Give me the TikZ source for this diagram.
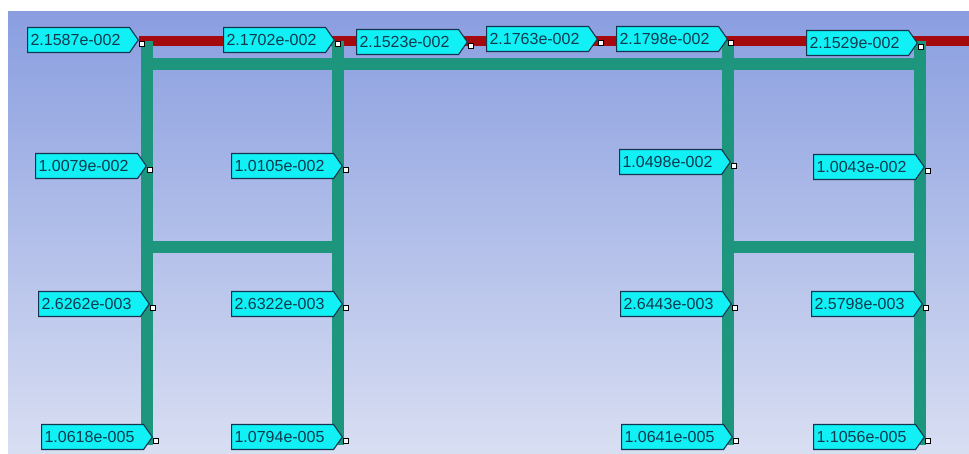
\documentclass[tikz,border=0pt]{standalone}
\usepackage{fontspec}
\setmainfont{Liberation Sans}
\usetikzlibrary{shapes.symbols}
\definecolor{bgtop}{HTML}{8A9EE0}
\definecolor{bgbot}{HTML}{D8DEF2}
\definecolor{pipegreen}{HTML}{1E967D}
\definecolor{pipered}{HTML}{A50A0F}
\definecolor{lblfill}{HTML}{10F0F5}
\definecolor{lbldraw}{HTML}{16344E}
\definecolor{lbltext}{HTML}{0E3A50}
\tikzset{
  lbl/.style={signal, signal to=east, signal pointer angle=110, fill=lblfill, draw=lbldraw, line width=1.1pt,
    text=lbltext, font=\fontsize{16}{16}\selectfont, minimum height=25pt,
    text width=96pt, inner xsep=3pt, align=left, anchor=east},
  marker/.style={rectangle, fill=white, draw=black, line width=1pt, minimum size=5pt, inner sep=0pt},
  greenpipe/.style={draw=pipegreen, line width=12pt},
  redpipe/.style={draw=pipered, line width=10pt},
}
\begin{document}
\begin{tikzpicture}[x=1pt,y=-1pt]
\useasboundingbox (0,0) rectangle (969,453);
\fill[white] (0,0) rectangle (969,453);
\shade[top color=bgtop, bottom color=bgbot] (8,11) rectangle (969,453);
% junction coordinates
\coordinate (rs) at (139,41);
\coordinate (re) at (969,41);
\coordinate (g1t) at (147,41);
\coordinate (g2t) at (338,41);
\coordinate (g3t) at (728,41);
\coordinate (g4t) at (920,41);
\coordinate (g1b) at (147,445);
\coordinate (g2b) at (338,445);
\coordinate (g3b) at (728,445);
\coordinate (g4b) at (920,445);
\coordinate (h1) at (141,64);
\coordinate (h2) at (926,64);
\coordinate (m1) at (147,247);
\coordinate (m2) at (338,247);
\coordinate (m3) at (728,247);
\coordinate (m4) at (920,247);
% pipes
\draw[redpipe] (rs) -- (re);
\draw[greenpipe] (h1) -- (h2);
\draw[greenpipe] (g1t) -- (g1b);
\draw[greenpipe] (g2t) -- (g2b);
\draw[greenpipe] (g3t) -- (g3b);
\draw[greenpipe] (g4t) -- (g4b);
\draw[greenpipe] (m1) -- (m2);
\draw[greenpipe] (m3) -- (m4);
% labels top row
\node[lbl] (t1) at (139,40) {2.1587e-002};
\node[lbl] (t2) at (335,40) {2.1702e-002};
\node[lbl] (t3) at (468,42) {2.1523e-002};
\node[lbl] (t4) at (598,39) {2.1763e-002};
\node[lbl] (t5) at (728,39) {2.1798e-002};
\node[lbl] (t6) at (918,43) {2.1529e-002};
% row 1
\node[lbl] (a1) at (147,166) {1.0079e-002};
\node[lbl] (a2) at (343,166) {1.0105e-002};
\node[lbl] (a3) at (731,162) {1.0498e-002};
\node[lbl] (a4) at (925,167) {1.0043e-002};
% row 2
\node[lbl] (b1) at (150,304) {2.6262e-003};
\node[lbl] (b2) at (343,304) {2.6322e-003};
\node[lbl] (b3) at (732,304) {2.6443e-003};
\node[lbl] (b4) at (923,304) {2.5798e-003};
% row 3
\node[lbl] (c1) at (153,437) {1.0618e-005};
\node[lbl] (c2) at (343,437) {1.0794e-005};
\node[lbl] (c3) at (733,437) {1.0641e-005};
\node[lbl] (c4) at (925,437) {1.1056e-005};
% markers
\foreach \n in {t1,t2,t3,t4,t5,t6,a1,a2,a3,a4,b1,b2,b3,b4,c1,c2,c3,c4}{
  \node[marker] (mk\n) at ([xshift=3pt,yshift=-4pt]\n.east) {};
}
\end{tikzpicture}
\end{document}
